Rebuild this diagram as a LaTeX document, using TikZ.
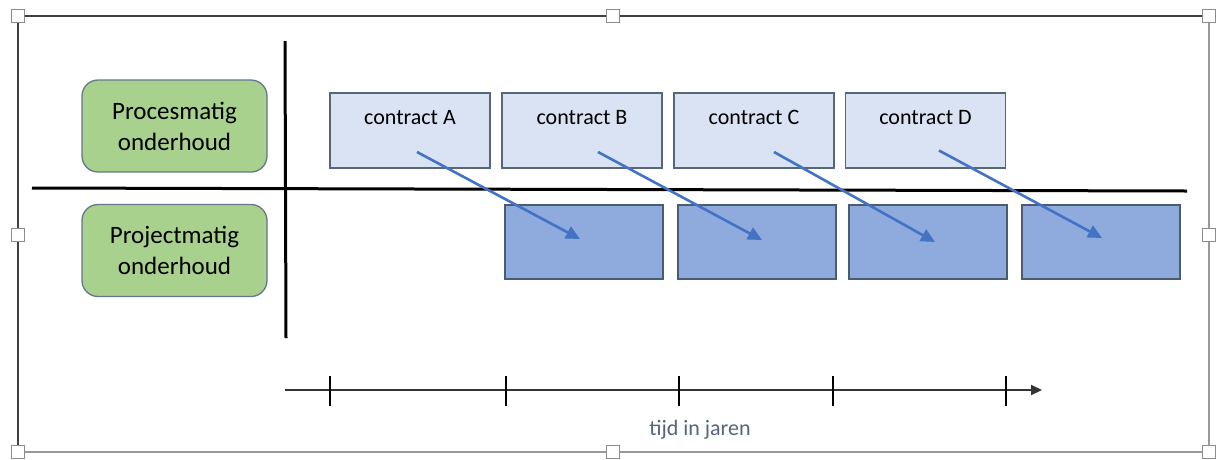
\documentclass[tikz,border=0pt]{standalone}
\usepackage{fontspec}
\setmainfont{Carlito}
\usetikzlibrary{arrows.meta}
\definecolor{groen}{HTML}{A9D18E}
\definecolor{groenrand}{HTML}{65778A}
\definecolor{lichtblauw}{HTML}{DAE3F3}
\definecolor{lichtrand}{HTML}{56677A}
\definecolor{middenblauw}{HTML}{8FAADC}
\definecolor{middenrand}{HTML}{4B5B70}
\definecolor{pijlblauw}{HTML}{4472C4}
\definecolor{tijdtekst}{HTML}{55657C}
\tikzset{
  soortbox/.style={draw=groenrand, line width=1.3pt, fill=groen, rounded corners=16pt,
    minimum width=185pt, minimum height=92pt, inner sep=0pt, align=center,
    font=\fontsize{25}{31}\selectfont},
  contractbox/.style={draw=lichtrand, line width=1.3pt, fill=lichtblauw,
    minimum width=160pt, minimum height=75pt, inner sep=0pt},
  projectbox/.style={draw=middenrand, line width=1.3pt, fill=middenblauw,
    minimum width=158pt, minimum height=74pt, inner sep=0pt},
  contracttekst/.style={anchor=base, font=\fontsize{22}{26}\selectfont, inner sep=0pt},
  overgang/.style={draw=pijlblauw, line width=2.6pt,
    -{Triangle[length=14pt,width=13pt]}},
  aslijn/.style={line width=3pt, black},
  handvat/.style={draw=black!45, fill=white, line width=0.9pt,
    minimum size=13pt, inner sep=0pt},
}
\begin{document}
\begin{tikzpicture}[x=1pt, y=-1pt]
\useasboundingbox (0,0) rectangle (1216,459);
\fill[white] (0,0) rectangle (1216,459);

% selection frame
\draw[black!75, line width=1.8pt] (18,452) -- (18,16) -- (1209,16);
\draw[black!40, line width=1.4pt] (1209,16) -- (1209,452) -- (18,452);
\foreach \hx/\hy [count=\i] in {18/16, 613/16, 1209/16, 18/235, 1209/235, 18/452, 613/452, 1209/452}
  \node[handvat] (h\i) at (\hx,\hy) {};

% quadrant lines
\draw[aslijn] (32,188) -- (1187,191);
\draw[aslijn] (285,41) -- (286,338);

% row labels
\node[soortbox] (proces) at (174.5,126) {Procesmatig\\onderhoud};
\node[soortbox] (project) at (174.5,250.5) {Projectmatig\\onderhoud};

% contracts (top row)
\node[contractbox] (ca) at (410,130.5) {};
\node[contractbox] (cb) at (582,130.5) {};
\node[contractbox] (cc) at (754,130.5) {};
\node[contractbox] (cd) at (925.5,130.5) {};
\node[contracttekst] (ta) at ([yshift=-32pt]ca.north) {contract A};
\node[contracttekst] (tb) at ([yshift=-32pt]cb.north) {contract B};
\node[contracttekst] (tc) at ([yshift=-32pt]cc.north) {contract C};
\node[contracttekst] (td) at ([yshift=-32pt]cd.north) {contract D};

% projects (bottom row)
\node[projectbox] (pa) at (584,242) {};
\node[projectbox] (pb) at (757,242) {};
\node[projectbox] (pc) at (928,242) {};
\node[projectbox] (pd) at (1101,242) {};

% transitions
\draw[overgang] ([shift={(7,21.5)}]ca.center) -- ([shift={(-4,-3)}]pa.center);
\draw[overgang] ([shift={(16,21.5)}]cb.center) -- ([shift={(5,-2)}]pb.center);
\draw[overgang] ([shift={(20,21.5)}]cc.center) -- ([shift={(7,0)}]pc.center);
\draw[overgang] ([shift={(13.5,20)}]cd.center) -- ([shift={(1,-4)}]pd.center);

% time axis
\coordinate (t0) at (285,390);
\coordinate (t1) at (1042,390);
\draw[black!80, line width=2pt, -{Triangle[length=11pt,width=10pt]}] (t0) -- (t1);
\foreach \tx in {330, 506, 679, 833, 1006}
  \draw[black, line width=1.4pt] (\tx,376) -- (\tx,406);
\node[text=tijdtekst, font=\fontsize{22}{26}\selectfont] (tijd) at (700,430) {tijd in jaren};
\end{tikzpicture}
\end{document}
